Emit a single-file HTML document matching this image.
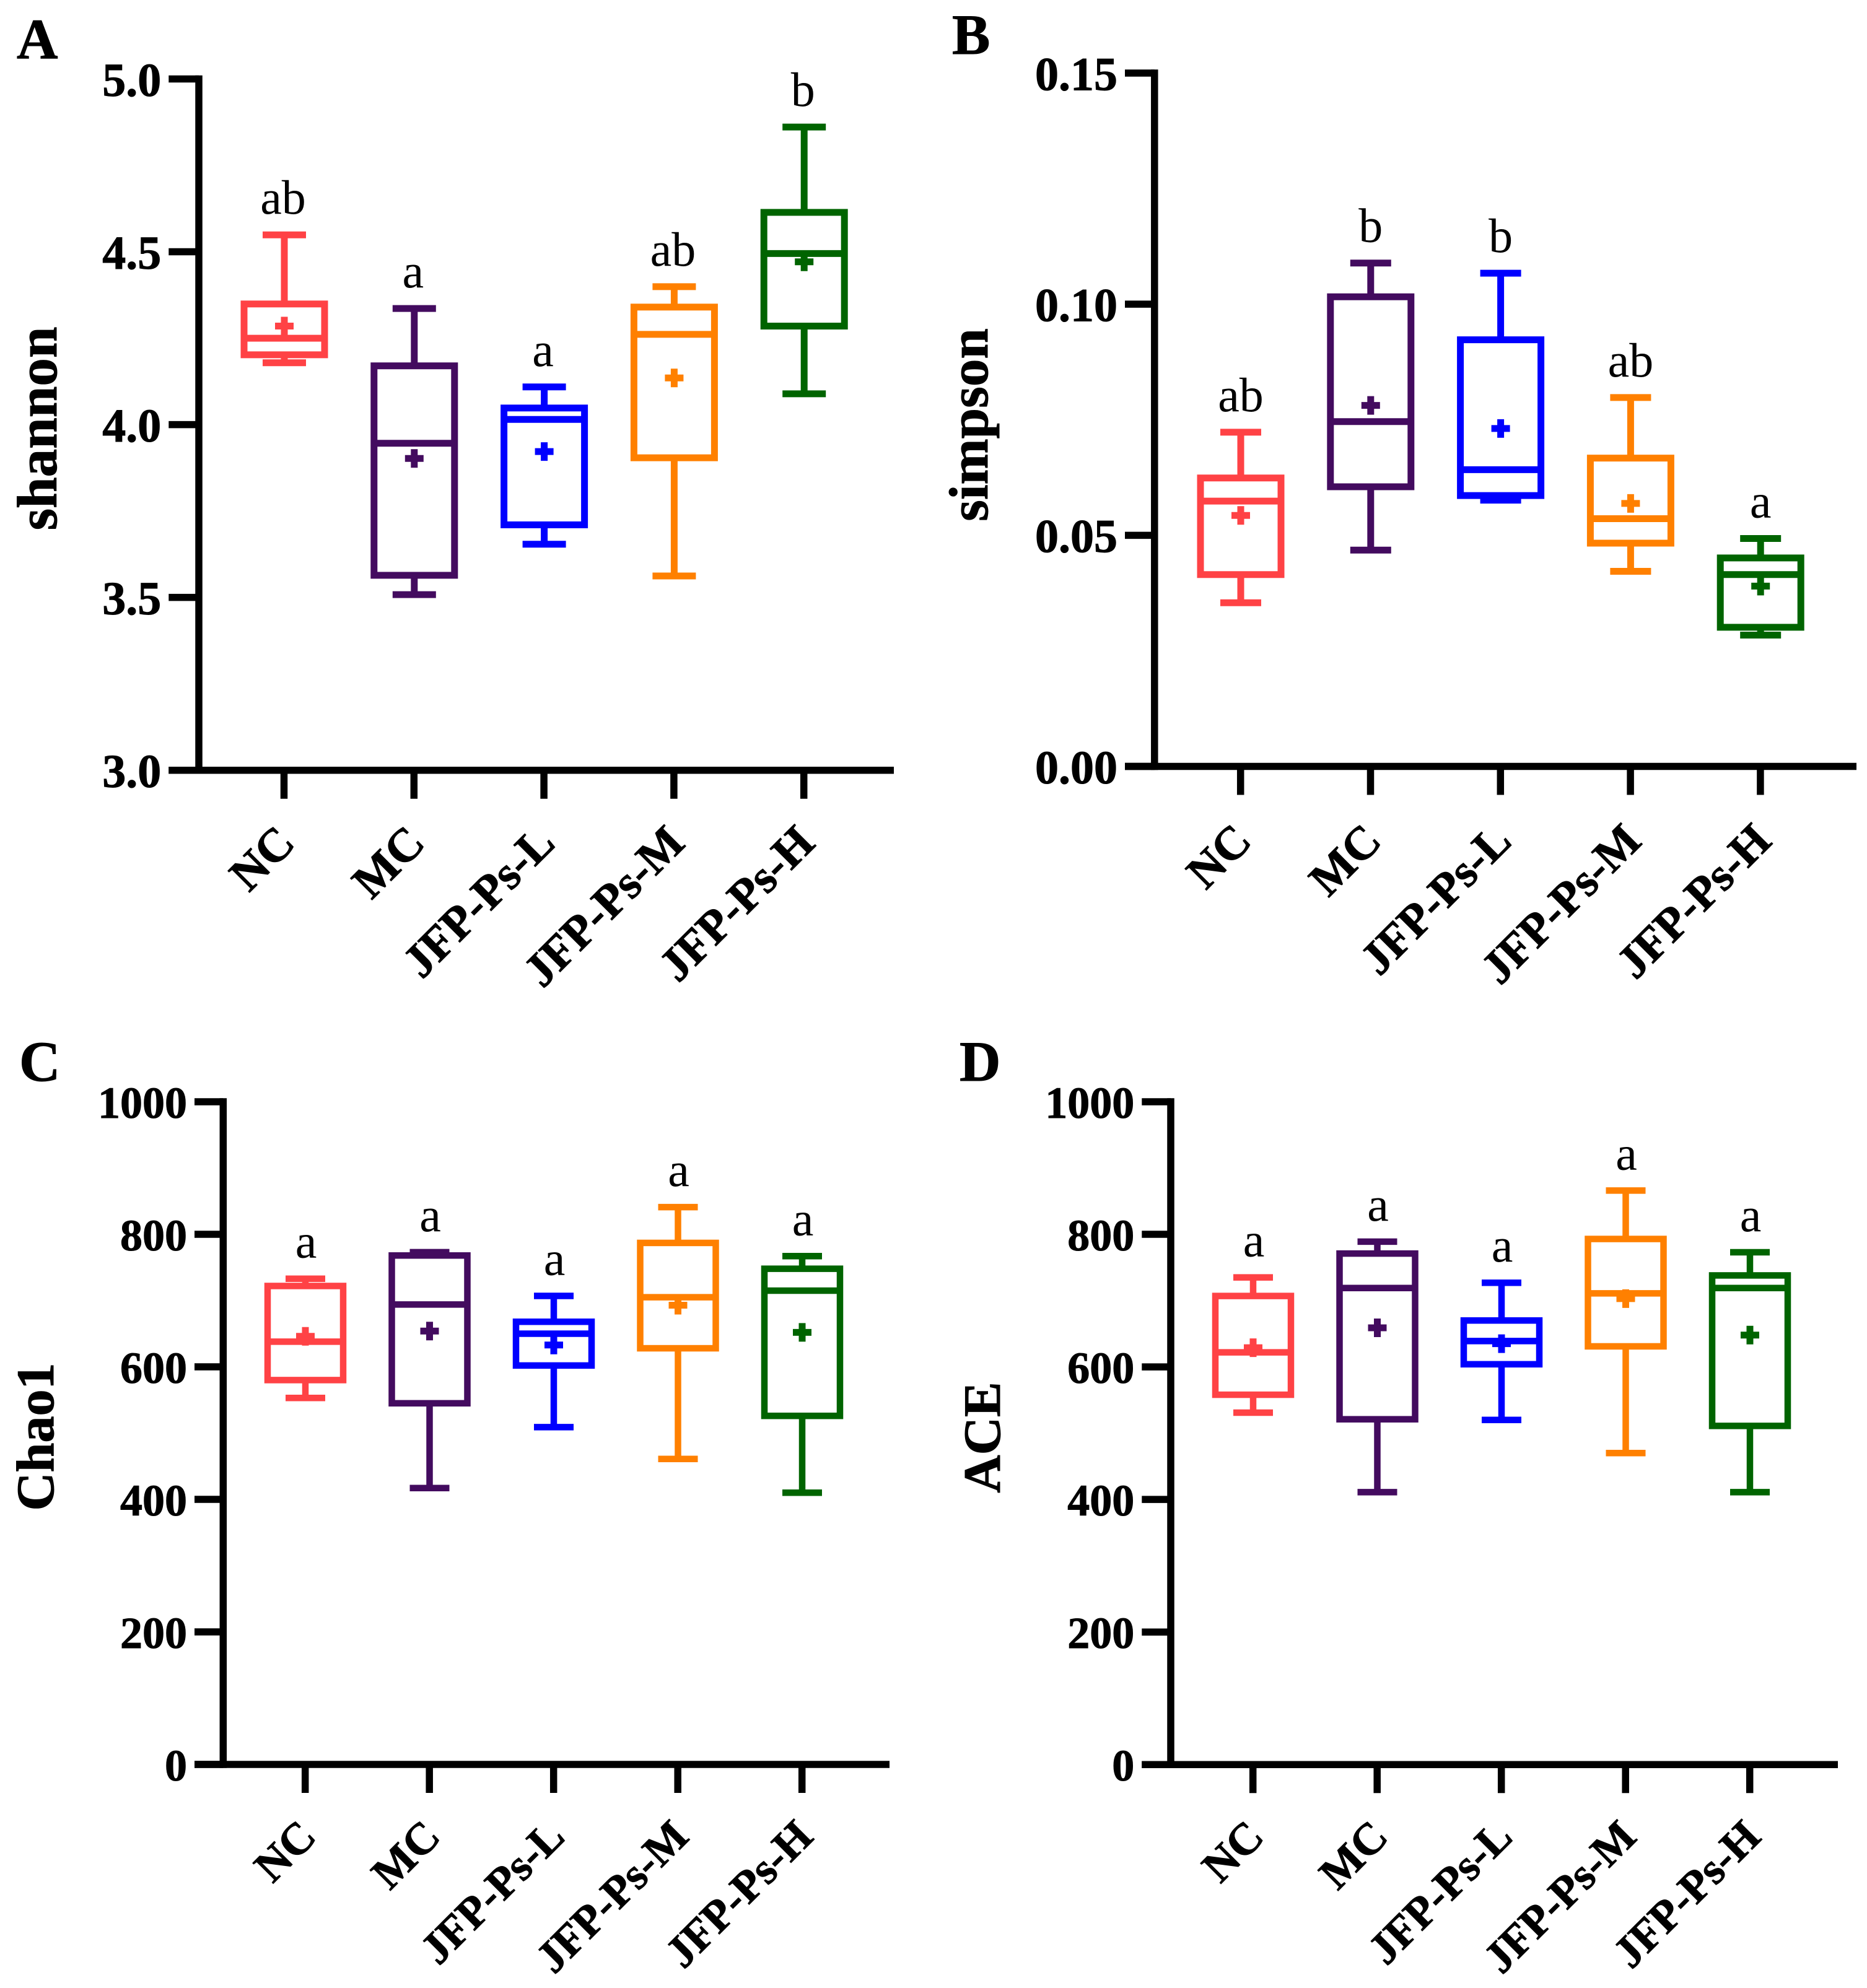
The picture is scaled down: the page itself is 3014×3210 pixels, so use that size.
<!DOCTYPE html>
<html lang="en">
<head>
<meta charset="utf-8">
<title>Alpha diversity box plots</title>
<style>
html,body{margin:0;padding:0;background:#fff;}
svg{display:block;}
text{font-family:"Liberation Serif",serif;fill:#000;}
.bold{font-weight:bold;stroke:#000;stroke-width:1;}
</style>
</head>
<body>
<svg id="figure" xmlns="http://www.w3.org/2000/svg" width="3014" height="3210" viewBox="0 0 3014 3210">
  <rect x="0" y="0" width="3014" height="3210" fill="#fff"/>
  <text class="bold" x="27" y="94" font-size="92">A</text>
  <text class="bold" x="1537" y="87" font-size="92">B</text>
  <text class="bold" x="31" y="1745" font-size="92">C</text>
  <text class="bold" x="1549" y="1745" font-size="92">D</text>
  <text class="bold" font-size="91" text-anchor="middle" transform="translate(91 692) rotate(-90)">shannon</text>
  <text class="bold" font-size="89" text-anchor="middle" transform="translate(1594 686) rotate(-90)">simpson</text>
  <text class="bold" font-size="86" text-anchor="middle" transform="translate(86 2320) rotate(-90)">Chao1</text>
  <text class="bold" font-size="85" text-anchor="middle" transform="translate(1614 2321) rotate(-90)">ACE</text>
</svg>
<script>
const categories = ["NC", "MC", "JFP-Ps-L", "JFP-Ps-M", "JFP-Ps-H"];
const seriesColors = ["#ff4245", "#430b5f", "#0000ff", "#ff8000", "#006400"];

const shannonTicks = ["3.0", "3.5", "4.0", "4.5", "5.0"];
const shannonHigh = [4.549, 4.336, 4.109, 4.399, 4.861];
const shannonQ3 = [4.349, 4.170, 4.048, 4.340, 4.614];
const shannonMedian = [4.250, 3.946, 4.015, 4.261, 4.495];
const shannonQ1 = [4.202, 3.564, 3.710, 3.904, 4.285];
const shannonLow = [4.179, 3.508, 3.654, 3.562, 4.089];
const shannonMean = [4.285, 3.902, 3.922, 4.135, 4.471];
const shannonLetters = ["ab", "a", "a", "ab", "b"];

const simpsonTicks = ["0.00", "0.05", "0.10", "0.15"];
const simpsonHigh = [0.0723, 0.1089, 0.1067, 0.0798, 0.0493];
const simpsonQ3 = [0.0624, 0.1016, 0.0923, 0.0667, 0.0451];
const simpsonMedian = [0.0574, 0.0746, 0.0642, 0.0536, 0.0415];
const simpsonQ1 = [0.0415, 0.0605, 0.0586, 0.0483, 0.0301];
const simpsonLow = [0.0354, 0.0468, 0.0576, 0.0422, 0.0284];
const simpsonMean = [0.0543, 0.0781, 0.0731, 0.0569, 0.0390];
const simpsonLetters = ["ab", "b", "b", "ab", "a"];

const chaoTicks = ["0", "200", "400", "600", "800", "1000"];
const chaoHigh = [733, 773, 707, 841, 767];
const chaoQ3 = [722, 768, 668, 787, 748];
const chaoMedian = [638, 694, 650, 705, 715];
const chaoQ1 = [580, 545, 602, 628, 526];
const chaoLow = [553, 417, 509, 461, 410];
const chaoMean = [646, 654, 633, 693, 652];
const chaoLetters = ["a", "a", "a", "a", "a"];

const aceTicks = ["0", "200", "400", "600", "800", "1000"];
const aceHigh = [735, 789, 727, 866, 773];
const aceQ3 = [707, 771, 670, 793, 738];
const aceMedian = [622, 719, 639, 711, 719];
const aceQ1 = [558, 521, 604, 631, 511];
const aceLow = [531, 411, 520, 470, 411];
const aceMean = [629, 659, 635, 703, 648];
const aceLetters = ["a", "a", "a", "a", "a"];

const NS = "http://www.w3.org/2000/svg";
const figure = document.getElementById("figure");

function add(parent, tag, attrs, name) {
  const el = document.createElementNS(NS, tag);
  for (const k in attrs) el.setAttribute(k, attrs[k]);
  
  
  parent.appendChild(el);
  return el;
}

function line(parent, x1, y1, x2, y2, color, width, name) {
  return add(parent, "line", {x1: x1, y1: y1, x2: x2, y2: y2, stroke: color, "stroke-width": width}, name);
}

function drawPanel(key, s, d) {
  const g = add(figure, "g", {}, key + "-panel");
  const yMin = parseFloat(d.ticks[0]);
  const yMax = parseFloat(d.ticks[d.ticks.length - 1]);
  const yScale = v => s.yBottom + (v - yMin) / (yMax - yMin) * (s.yTop - s.yBottom);
  const xScale = i => s.x0 + i * s.step;
  const xTick = i => s.tick0 + i * s.step;
  const aw = 11.5;

  line(g, s.axisX, s.yTop - aw / 2, s.axisX, s.yBottom + aw / 2, "#000", aw, key + "-y-axis");
  line(g, s.tickLeft, s.yBottom, s.xRight, s.yBottom, "#000", aw, key + "-x-axis");

  d.ticks.forEach(function (label) {
    const y = yScale(parseFloat(label));
    line(g, s.tickLeft, y, s.axisX, y, "#000", aw, key + "-y-tick");
    const t = add(g, "text", {x: s.tickLeft - s.labelGap, y: y + s.tickFont * 0.36, "font-size": s.tickFont, "text-anchor": "end", "class": "bold"}, key + "-y-tick-label");
    t.textContent = label;
  });

  categories.forEach(function (cat, i) {
    const tx = xTick(i);
    line(g, tx, s.yBottom, tx, s.yBottom + 46, "#000", aw, key + "-x-tick");
    const t = add(g, "text", {"font-size": s.catFont, "text-anchor": "end", "class": "bold", transform: "translate(" + (tx + 21) + " " + (s.yBottom + s.catDrop) + ") rotate(-45)"}, key + "-x-tick-label");
    t.textContent = cat;

    const c = seriesColors[i];
    const x = xScale(i);
    const box = add(g, "g", {}, key + "-box-" + i);
    const yHigh = yScale(d.high[i]);
    const yQ3 = yScale(d.q3[i]);
    const yMed = yScale(d.median[i]);
    const yQ1 = yScale(d.q1[i]);
    const yLow = yScale(d.low[i]);
    const yMean = yScale(d.mean[i]);
    const sw = s.boxStroke;
    line(box, x, yHigh, x, yQ3, c, sw, key + "-upper-whisker");
    line(box, x, yQ1, x, yLow, c, sw, key + "-lower-whisker");
    line(box, x - s.capHalf, yHigh, x + s.capHalf, yHigh, c, sw, key + "-upper-cap");
    line(box, x - s.capHalf, yLow, x + s.capHalf, yLow, c, sw, key + "-lower-cap");
    add(box, "rect", {x: x - s.boxHalf, y: yQ3, width: s.boxHalf * 2, height: yQ1 - yQ3, fill: "none", stroke: c, "stroke-width": sw}, key + "-interquartile-box");
    line(box, x - s.boxHalf, yMed, x + s.boxHalf, yMed, c, sw, key + "-median-line");
    line(box, x - 15, yMean, x + 15, yMean, c, 11, key + "-mean-marker-h");
    line(box, x, yMean - 15, x, yMean + 15, c, 11, key + "-mean-marker-v");
    const sig = add(g, "text", {x: x + s.letterDx, y: yHigh - 34, "font-size": 78, "text-anchor": "middle"}, key + "-significance-letter");
    sig.textContent = d.letters[i];
  });
}

drawPanel("shannon",
  {axisX: 321, yTop: 127.5, yBottom: 1243.7, tickLeft: 272.3, xRight: 1443, x0: 459, tick0: 458.5, step: 209.8, boxHalf: 65, capHalf: 35, boxStroke: 11, tickFont: 76, catFont: 76, catDrop: 121, labelGap: 12, letterDx: -2},
  {ticks: shannonTicks, high: shannonHigh, q3: shannonQ3, median: shannonMedian, q1: shannonQ1, low: shannonLow, mean: shannonMean, letters: shannonLetters});

drawPanel("simpson",
  {axisX: 1863.8, yTop: 118, yBottom: 1237.5, tickLeft: 1816, xRight: 2997, x0: 2003, tick0: 2002.7, step: 209.8, boxHalf: 65, capHalf: 33, boxStroke: 11, tickFont: 76, catFont: 75.5, catDrop: 124, labelGap: 12, letterDx: 0},
  {ticks: simpsonTicks, high: simpsonHigh, q3: simpsonQ3, median: simpsonMedian, q1: simpsonQ1, low: simpsonLow, mean: simpsonMean, letters: simpsonLetters});

drawPanel("chao1",
  {axisX: 360.3, yTop: 1779, yBottom: 2849, tickLeft: 314, xRight: 1436, x0: 493, tick0: 492.7, step: 200.5, boxHalf: 61, capHalf: 32, boxStroke: 10.5, tickFont: 72, catFont: 72, catDrop: 120, labelGap: 12, letterDx: 1},
  {ticks: chaoTicks, high: chaoHigh, q3: chaoQ3, median: chaoMedian, q1: chaoQ1, low: chaoLow, mean: chaoMean, letters: chaoLetters});

drawPanel("ace",
  {axisX: 1890, yTop: 1779, yBottom: 2849.3, tickLeft: 1843.3, xRight: 2967, x0: 2023, tick0: 2022.7, step: 200.5, boxHalf: 61, capHalf: 32, boxStroke: 10.5, tickFont: 72, catFont: 72, catDrop: 120, labelGap: 12, letterDx: 1},
  {ticks: aceTicks, high: aceHigh, q3: aceQ3, median: aceMedian, q1: aceQ1, low: aceLow, mean: aceMean, letters: aceLetters});
</script>
</body>
</html>
